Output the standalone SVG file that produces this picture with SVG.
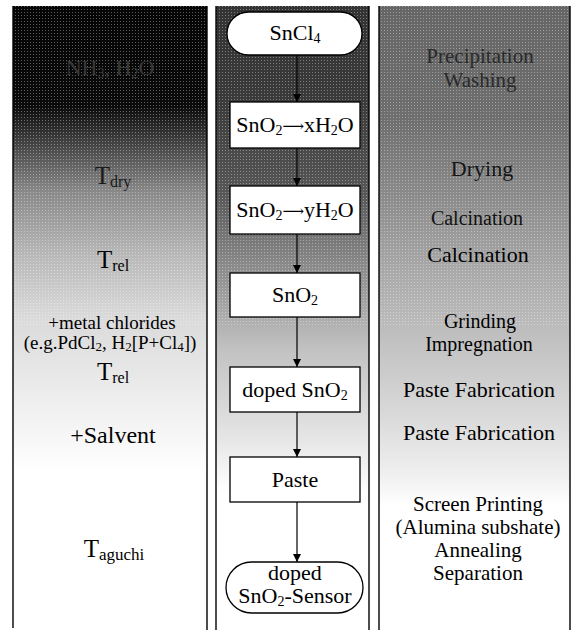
<svg xmlns="http://www.w3.org/2000/svg" width="581" height="639" viewBox="0 0 581 639">
<style>
text{font-family:"Liberation Serif","Times New Roman",serif;fill:#000;text-anchor:middle}
.t{font-size:22px}
.m{font-size:20px}
.n{font-size:21px}
.b{font-size:19px}
.s{font-size:14px}
.ar{font-family:"DejaVu Serif","DejaVu Sans",serif;font-size:15px}
.node{fill:#fff;stroke:#000;stroke-width:1.3}
.con{stroke:#000;stroke-width:1.2;fill:none;marker-end:url(#ah)}
.bd{stroke:#000;stroke-width:1.4;fill:none}
</style>
<defs>
<marker id="ah" viewBox="0 0 10 10" refX="10" refY="5" markerWidth="8" markerHeight="8" markerUnits="userSpaceOnUse" orient="auto">
<path d="M0,0 L10,5 L0,10 z" fill="#000"/>
</marker>
<linearGradient id="gL" x1="0" y1="0" x2="0" y2="1">
<stop offset="0" stop-color="#050505"/>
<stop offset="0.16" stop-color="#0a0a0a"/>
<stop offset="0.24" stop-color="#555"/>
<stop offset="0.3" stop-color="#8a8a8a"/>
<stop offset="0.4" stop-color="#b8b8b8"/>
<stop offset="0.5" stop-color="#dadada"/>
<stop offset="0.62" stop-color="#ececec"/>
<stop offset="0.75" stop-color="#fff"/>
<stop offset="1" stop-color="#fff"/>
</linearGradient>
<linearGradient id="gM" x1="0" y1="0" x2="0" y2="1">
<stop offset="0" stop-color="#333"/>
<stop offset="0.15" stop-color="#3a3a3a"/>
<stop offset="0.3" stop-color="#575757"/>
<stop offset="0.42" stop-color="#8c8c8c"/>
<stop offset="0.55" stop-color="#c2c2c2"/>
<stop offset="0.68" stop-color="#e2e2e2"/>
<stop offset="0.78" stop-color="#fff"/>
<stop offset="1" stop-color="#fff"/>
</linearGradient>
<linearGradient id="gR" x1="0" y1="0" x2="0" y2="1">
<stop offset="0" stop-color="#666"/>
<stop offset="0.18" stop-color="#6e6e6e"/>
<stop offset="0.3" stop-color="#8a8a8a"/>
<stop offset="0.42" stop-color="#a8a8a8"/>
<stop offset="0.55" stop-color="#c4c4c4"/>
<stop offset="0.66" stop-color="#dadada"/>
<stop offset="0.76" stop-color="#f2f2f2"/>
<stop offset="0.8" stop-color="#fff"/>
<stop offset="1" stop-color="#fff"/>
</linearGradient>
<pattern id="dots" width="3" height="3" patternUnits="userSpaceOnUse">
<rect width="1" height="1" fill="#fff" opacity="0.35"/>
</pattern>
</defs>
<rect width="581" height="639" fill="#fff"/>
<g id="columns">
<rect x="13" y="6" width="194" height="622" fill="url(#gL)"/>
<rect x="216" y="6" width="153" height="624" fill="url(#gM)"/>
<rect x="379" y="6" width="191" height="624" fill="url(#gR)"/>
<rect x="13" y="6" width="557" height="320" fill="url(#dots)"/>
<line class="bd" x1="13" y1="6" x2="13" y2="628"/>
<line class="bd" x1="207" y1="6" x2="207" y2="630"/>
<line class="bd" x1="216" y1="6" x2="216" y2="630"/>
<line class="bd" x1="369" y1="6" x2="369" y2="630"/>
<line class="bd" x1="379" y1="6" x2="379" y2="630"/>
<line class="bd" x1="570" y1="6" x2="570" y2="630"/>
</g>
<g id="connectors">
<line class="con" x1="297" y1="55" x2="297" y2="102"/>
<line class="con" x1="297" y1="148" x2="297" y2="186"/>
<line class="con" x1="297" y1="234" x2="297" y2="273"/>
<line class="con" x1="297" y1="317" x2="297" y2="367"/>
<line class="con" x1="297" y1="412" x2="297" y2="457"/>
<line class="con" x1="297" y1="502" x2="297" y2="562"/>
</g>
<g id="n-sncl4">
<rect class="node" x="227" y="12" width="135" height="43" rx="21.5"/>
<text class="t" x="295" y="40">SnCl<tspan class="s" dy="3">4</tspan></text>
</g>
<g id="n-xh2o">
<rect class="node" x="230" y="102" width="130" height="46"/>
<text class="t" x="295" y="132">SnO<tspan class="s" dy="3">2</tspan><tspan class="ar" dy="-4">⟶</tspan><tspan dy="1">xH</tspan><tspan class="s" dy="3">2</tspan><tspan dy="-3">O</tspan></text>
</g>
<g id="n-yh2o">
<rect class="node" x="230" y="186" width="130" height="48"/>
<text class="t" x="295" y="217">SnO<tspan class="s" dy="3">2</tspan><tspan class="ar" dy="-4">⟶</tspan><tspan dy="1">yH</tspan><tspan class="s" dy="3">2</tspan><tspan dy="-3">O</tspan></text>
</g>
<g id="n-sno2">
<rect class="node" x="230" y="273" width="130" height="44"/>
<text class="t" x="295" y="302">SnO<tspan class="s" dy="3">2</tspan></text>
</g>
<g id="n-doped">
<rect class="node" x="230" y="367" width="130" height="45"/>
<text class="t" x="295" y="397">doped SnO<tspan class="s" dy="3">2</tspan></text>
</g>
<g id="n-paste">
<rect class="node" x="230" y="457" width="130" height="45"/>
<text class="t" x="295" y="487">Paste</text>
</g>
<g id="n-sensor">
<rect class="node" x="226" y="562" width="137" height="51" rx="25.5"/>
<text class="t" x="295" y="580">doped</text>
<text class="t" x="295" y="603">SnO<tspan class="s" dy="3">2</tspan><tspan dy="-3">-Sensor</tspan></text>
</g>
<g id="left-labels">
<text class="t" x="110" y="75" style="fill:#383838">NH<tspan class="s" dy="3">3</tspan><tspan dy="-3">, H</tspan><tspan class="s" dy="3">2</tspan><tspan dy="-3">O</tspan></text>
<text x="113" y="184" font-size="25" style="fill:#1a1a1a">T<tspan font-size="16" dy="3">dry</tspan></text>
<text x="113" y="268" font-size="25">T<tspan font-size="16" dy="3">rel</tspan></text>
<text class="b" x="112" y="329">+metal chlorides</text>
<text class="b" x="110" y="349">(e.g.PdCl<tspan font-size="13" dy="2">2</tspan><tspan dy="-2">, H</tspan><tspan font-size="13" dy="2">2</tspan><tspan dy="-2">[P+Cl</tspan><tspan font-size="13" dy="2">4</tspan><tspan dy="-2">])</tspan></text>
<text x="113" y="380" font-size="25">T<tspan font-size="16" dy="3">rel</tspan></text>
<text x="113" y="443" font-size="24">+Salvent</text>
<text x="114" y="557" font-size="25">T<tspan font-size="17" dy="3">aguchi</tspan></text>
</g>
<g id="right-labels">
<text class="n" x="480" y="63" style="fill:#2a2a2a">Precipitation</text>
<text class="n" x="480" y="87" style="fill:#2a2a2a">Washing</text>
<text class="t" x="482" y="176" style="fill:#151515">Drying</text>
<text class="m" x="477" y="225" style="fill:#111">Calcination</text>
<text class="t" x="478" y="262">Calcination</text>
<text class="m" x="480" y="328">Grinding</text>
<text class="m" x="479" y="351">Impregnation</text>
<text class="t" x="479" y="397">Paste Fabrication</text>
<text class="t" x="479" y="440">Paste Fabrication</text>
<text class="n" x="478" y="511">Screen Printing</text>
<text class="n" x="478" y="534">(Alumina subshate)</text>
<text class="n" x="478" y="557">Annealing</text>
<text class="n" x="478" y="580">Separation</text>
</g>
</svg>
